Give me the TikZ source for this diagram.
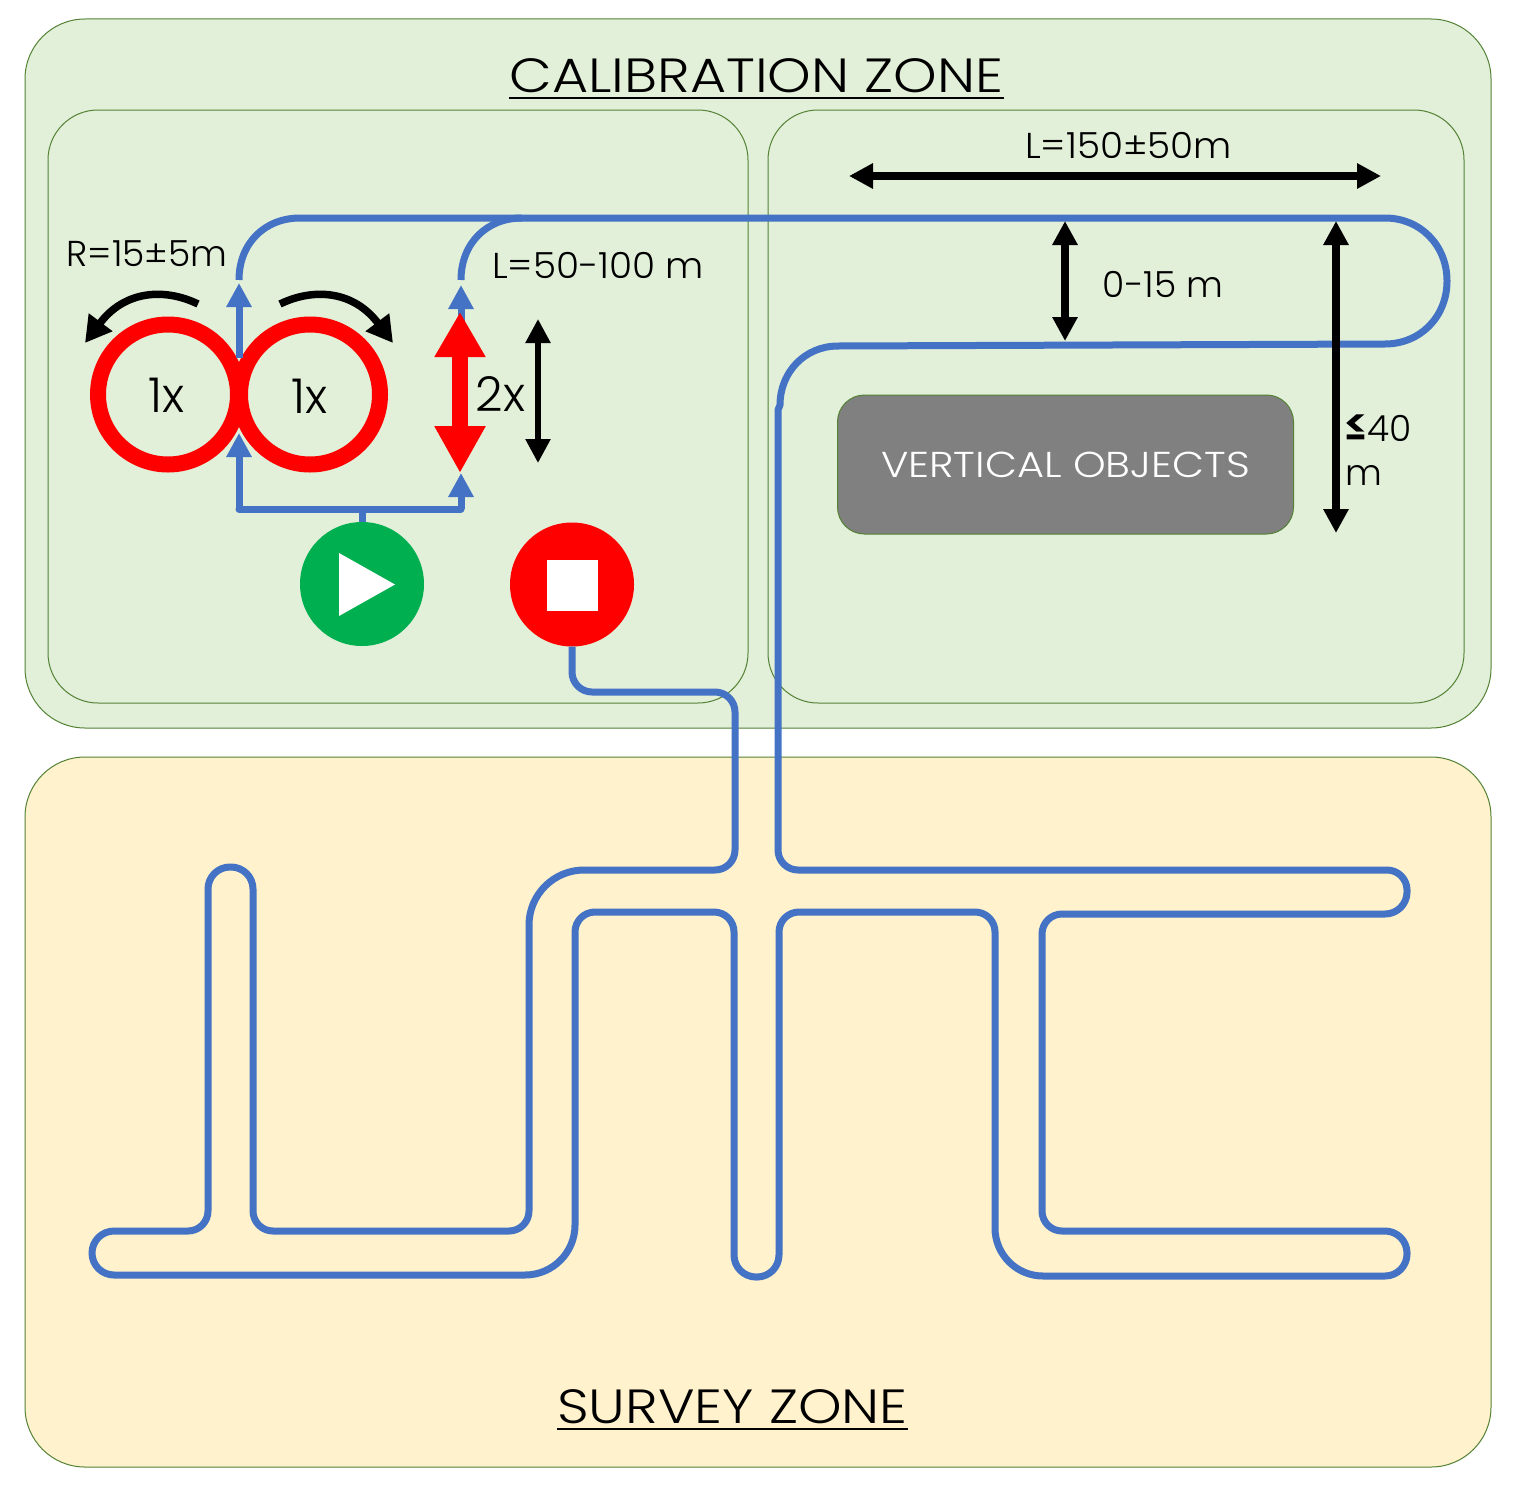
\documentclass[tikz,border=0pt]{standalone}
\usepackage{fontspec}
\setmainfont{Poppins}[UprightFont=* Light,BoldFont=* SemiBold]
\newfontfamily\widecaps{Poppins}[UprightFont=* Light,FakeStretch=1.155]
\newfontfamily\slightwide{Poppins}[UprightFont=* Light,FakeStretch=1.038]
\usetikzlibrary{arrows.meta}
\definecolor{zonegreen}{HTML}{E2EFD9}
\definecolor{zonecream}{HTML}{FFF2CC}
\definecolor{edgegreen}{HTML}{548235}
\definecolor{trackblue}{HTML}{4472C4}
\definecolor{startgreen}{HTML}{00B050}
\tikzset{
  x=1pt,y=-1pt,
  zone/.style={fill=#1,draw=edgegreen,line width=1pt},
  track/.style={draw=trackblue,line width=7pt,line cap=round,line join=round},
  feeder/.style={draw=trackblue,line width=7pt,-{Triangle[length=24pt,width=24pt]}},
  measure/.style={draw=black,line width=#1,{Triangle[length=24pt,width=24pt]}-{Triangle[length=24pt,width=24pt]}},
  turnarrow/.style={draw=black,line width=7.5pt,-{Triangle[length=26pt,width=28pt]}},
  loopring/.style={circle,draw=red,line width=16pt,minimum size=140pt,inner sep=0pt},
  dim/.style={inner sep=0pt,font=\fontsize{36}{36}\selectfont},
  widedim/.style={inner sep=0pt,font=\fontsize{36}{36}\slightwide},
  count/.style={inner sep=0pt,font=\fontsize{48}{48}\selectfont},
  heading/.style={inner sep=0pt,font=\fontsize{48}{48}\widecaps},
}
\begin{document}
\begin{tikzpicture}
\useasboundingbox (0,0) rectangle (1512,1512);
\fill[white] (0,0) rectangle (1512,1512);

% zones
\draw[zone=zonegreen,rounded corners=60pt] (25,19) rectangle (1491,728);
\draw[zone=zonecream,rounded corners=60pt] (25,757) rectangle (1491,1467);
\draw[zone=zonegreen,rounded corners=50pt] (48,110) rectangle (748,703);
\draw[zone=zonegreen,rounded corners=50pt] (768,110) rectangle (1464,703);

% start and stop markers
\node[circle,fill=startgreen,minimum size=124pt,inner sep=0pt] (play) at (362,584) {};
\node[circle,fill=red,minimum size=124pt,inner sep=0pt] (halt) at (572,584.5) {};
\fill[white] (339,553) -- (395,584.5) -- (339,616) -- cycle;
\fill[white] (547,560) rectangle (598,611);

% main survey track, from the first loop exit through to the stop marker
\draw[track,line cap=butt]
  (239,280) .. controls (239,243) and (265,218) .. (300,218)
  -- (1385,218)
  .. controls (1420,218) and (1447,245) .. (1447,281)
  .. controls (1447,317) and (1420,344) .. (1385,344)
  -- (838,346)
  .. controls (805,346) and (780,372) .. (780,405)
  -- (778,410)
  [rounded corners=20pt] -- (778,870)
  -- (1407,870) [rounded corners=22pt] -- (1407,914)
  [rounded corners=20pt] -- (1042,914) -- (1042,1231)
  [rounded corners=22pt] -- (1407,1231) -- (1407,1276)
  [rounded corners=48pt] -- (995,1276)
  [rounded corners=20pt] -- (995,912) -- (779,912)
  [rounded corners=22pt] -- (779,1277) -- (734,1277)
  [rounded corners=20pt] -- (734,912) -- (575,912)
  [rounded corners=50pt] -- (575,1275)
  [rounded corners=22pt] -- (92,1275) -- (92,1231)
  [rounded corners=20pt] -- (208,1231)
  [rounded corners=22pt] -- (208,867) -- (253,867)
  [rounded corners=20pt] -- (253,1231) -- (529,1231)
  [rounded corners=55pt] -- (529,870)
  [rounded corners=20pt] -- (735,870) -- (735,692)
  -- (572,692) [sharp corners] -- (halt.south);
\draw[track,line cap=butt] (461,280) .. controls (461,243) and (487,218) .. (522,218);

% figure-eight loops
\node[loopring] (ringA) at (168,394.5) {};
\node[loopring] (ringB) at (310,394.5) {};
\node[count] (lblA) at (167,395) {1x};
\node[count] (lblB) at (310,396) {1x};

% entry branches above the start marker
\coordinate (splitL) at (239,509);
\coordinate (splitR) at (461,509);
\coordinate (aimL) at (239,433);
\coordinate (aimR) at (461,473);
\coordinate (exitLa) at (239,358);
\coordinate (exitLb) at (239,283);
\coordinate (exitRa) at (461,340);
\coordinate (exitRb) at (461,285);
\draw[track,line cap=butt] (play.north) -- (362,509);
\draw[track] (splitL) -- (splitR);
\draw[feeder] (splitL) -- (aimL);
\draw[feeder] (splitR) -- (aimR);
\draw[feeder] (exitLa) -- (exitLb);
\draw[feeder] (exitRa) -- (exitRb);

% straight run
\coordinate (runTop) at (460,312);
\coordinate (runBot) at (460,473);
\draw[draw=red,line width=16pt,{Triangle[length=45pt,width=48pt]}-{Triangle[length=47pt,width=48pt]}] (runTop) -- (runBot);
\node[count] (lblC) at (500.5,394) {2x};
\coordinate (runDimTop) at (538,319);
\coordinate (runDimBot) at (538,463);
\draw[measure=5.5pt] (runDimTop) -- (runDimBot);

% turning direction arrows
\coordinate (turnLa) at (198,304);
\coordinate (turnLb) at (85,343);
\coordinate (turnRa) at (280,304);
\coordinate (turnRb) at (393,343);
\draw[turnarrow] (turnLa) .. controls (165,288) and (125,290) .. (turnLb);
\draw[turnarrow] (turnRa) .. controls (313,288) and (353,290) .. (turnRb);

% dimensions in the right-hand box
\coordinate (lenL) at (849,176);
\coordinate (lenR) at (1381,176);
\draw[measure=8pt] (lenL) -- (lenR);
\coordinate (gapT) at (1065,221);
\coordinate (gapB) at (1065,341);
\draw[measure=8pt] (gapT) -- (gapB);
\coordinate (spanT) at (1336,221);
\coordinate (spanB) at (1336,533);
\draw[measure=8pt] (spanT) -- (spanB);

% obstacle block
\node[fill=black!50,draw=edgegreen,line width=1pt,rounded corners=27pt,minimum width=456pt,minimum height=139pt,inner sep=0pt,text=white,font=\fontsize{36}{36}\widecaps] (objects) at (1065.5,464.5) {VERTICAL OBJECTS};

% labels
\node[widedim] (tLen) at (1128.5,145) {L=150±50m};
\node[dim] (tGap) at (1163,284) {0-15 m};
\node[dim] (tRad) at (147,254) {R=15±5m};
\node[widedim] (tRun) at (598,265) {L=50-100 m};
\node[dim,anchor=base west] (tMax) at (1343,441) {{\fontsize{46}{46}\selectfont\textbf{≤}}40};
\node[dim,anchor=base west] (tMaxU) at (1345,485) {m};

% zone headings
\node[heading] (calib) at (756.5,76) {CALIBRATION ZONE};
\draw[line width=2.2pt] ([yshift=-5pt]calib.base west) -- ([yshift=-5pt]calib.base east);
\node[heading] (survey) at (732.5,1407) {SURVEY ZONE};
\draw[line width=2.2pt] ([yshift=-5pt]survey.base west) -- ([yshift=-5pt]survey.base east);
\end{tikzpicture}
\end{document}
